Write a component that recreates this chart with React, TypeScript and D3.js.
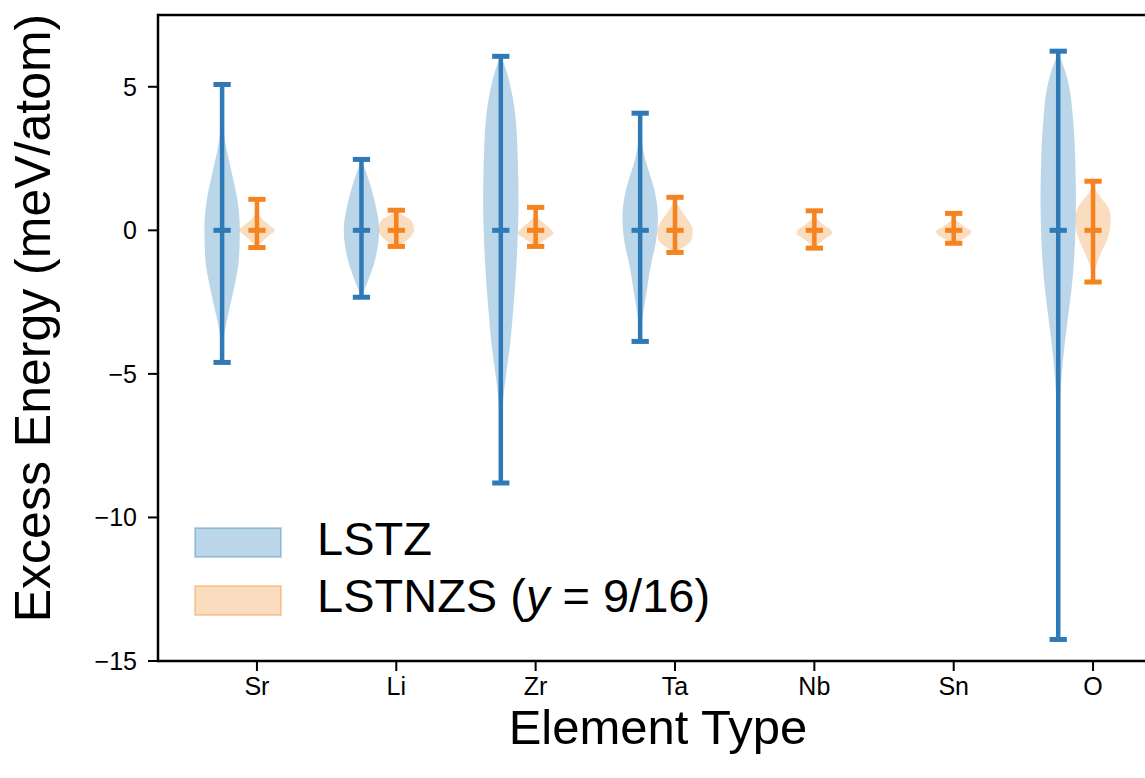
import React from "react";
import * as d3 from "d3";

// ---------- data ----------
const categories = ["Sr", "Li", "Zr", "Ta", "Nb", "Sn", "O"];
const yTicks = [5, 0, -5, -10, -15];

// [min, max] extents (meV/atom); null = no data
const lstzRange: ([number, number] | null)[] = [
  [-4.6, 5.08],
  [-2.33, 2.47],
  [-8.8, 6.06],
  [-3.87, 4.08],
  null,
  null,
  [-14.25, 6.24],
];
const lstnzsRange: ([number, number] | null)[] = [
  [-0.6, 1.08],
  [-0.56, 0.7],
  [-0.56, 0.8],
  [-0.77, 1.15],
  [-0.62, 0.68],
  [-0.45, 0.59],
  [-1.8, 1.71],
];
const lstzMean = [0, 0, 0, 0, null, null, 0];
const lstnzsMean = [0, 0, 0, 0, 0, 0, 0];

// density profiles: [value, relative width]
const lstzSr = [[5.08, 0], [4, 0.03], [3, 0.2], [2, 0.55], [1, 0.88], [0, 1], [-1, 0.95], [-2, 0.68], [-3, 0.32], [-3.7, 0.1], [-4.6, 0]];
const lstzLi = [[2.47, 0], [2, 0.28], [1, 0.75], [0, 1], [-1, 0.78], [-2, 0.22], [-2.33, 0]];
const lstzZr = [[6.06, 0], [5.8, 0.18], [5, 0.55], [4, 0.82], [3, 0.93], [2, 0.98], [1, 1], [0, 0.97], [-1, 0.9], [-2, 0.8], [-3, 0.67], [-4, 0.52], [-5, 0.3], [-6, 0.12], [-7, 0.05], [-8, 0.015], [-8.8, 0]];
const lstzTa = [[4.08, 0], [3.5, 0.04], [3, 0.12], [2.5, 0.28], [2, 0.52], [1.5, 0.77], [1, 0.93], [0.5, 1], [0, 0.97], [-0.5, 0.86], [-1, 0.68], [-1.5, 0.52], [-2, 0.4], [-2.5, 0.27], [-3, 0.14], [-3.5, 0.05], [-3.87, 0]];
const lstzO = [[6.24, 0], [6, 0.12], [5.5, 0.42], [5, 0.62], [4, 0.82], [3, 0.93], [2, 0.98], [1, 1], [0, 0.97], [-1, 0.9], [-2, 0.76], [-3, 0.56], [-4, 0.36], [-5, 0.2], [-6, 0.1], [-7, 0.04], [-8, 0.015], [-10, 0.005], [-14.25, 0]];

const lstnzsSr = [[1.08, 0], [0.7, 0.05], [0.45, 0.22], [0.2, 0.66], [0, 1], [-0.2, 0.66], [-0.45, 0.22], [-0.6, 0]];
const lstnzsLi = [[0.7, 0], [0.55, 0.3], [0.4, 0.75], [0.2, 0.95], [0, 1], [-0.2, 0.85], [-0.4, 0.5], [-0.56, 0.1]];
const lstnzsZr = [[0.8, 0], [0.5, 0.08], [0.3, 0.35], [0.1, 0.75], [-0.1, 1], [-0.3, 0.6], [-0.45, 0.25], [-0.56, 0]];
const lstnzsTa = [[1.15, 0], [0.9, 0.15], [0.6, 0.45], [0.3, 0.8], [0, 1], [-0.3, 0.95], [-0.5, 0.7], [-0.65, 0.3], [-0.77, 0]];
const lstnzsNb = [[0.68, 0], [0.4, 0.15], [0.2, 0.5], [0, 0.95], [-0.1, 1], [-0.3, 0.6], [-0.5, 0.2], [-0.62, 0]];
const lstnzsSn = [[0.59, 0], [0.35, 0.15], [0.15, 0.55], [-0.05, 1], [-0.2, 0.8], [-0.35, 0.35], [-0.45, 0]];
const lstnzsO = [[1.71, 0], [1.4, 0.15], [1.1, 0.5], [0.8, 0.85], [0.4, 1], [0, 0.95], [-0.4, 0.75], [-0.8, 0.45], [-1.2, 0.2], [-1.5, 0.07], [-1.8, 0]];

const lstzProfiles = [lstzSr, lstzLi, lstzZr, lstzTa, null, null, lstzO];
const lstnzsProfiles = [lstnzsSr, lstnzsLi, lstnzsZr, lstnzsTa, lstnzsNb, lstnzsSn, lstnzsO];

// ---------- layout ----------
const W = 1145;
const H = 778;
const left = 158;
const top = 15;
const bottom = 661;
const FONT = "'Liberation Sans', Arial, Helvetica, sans-serif";

const x = d3.scaleLinear().domain([-0.71, 6.71]).range([left, 1192]);
const y = d3.scaleLinear().domain([-15, 7.5]).range([bottom, top]);

const HALF = 0.127; // violin half-width (units)
const CAP = 0.062; // cap half-width (units)

const series = [
  {
    name: "LSTZ",
    offset: -0.25,
    profiles: lstzProfiles,
    ranges: lstzRange,
    means: lstzMean,
    body: "#1f77b4",
    line: "#2f79b6",
  },
  {
    name: "LSTNZS",
    offset: 0,
    profiles: lstnzsProfiles,
    ranges: lstnzsRange,
    means: lstnzsMean,
    body: "#f08a2a",
    line: "#f5831f",
  },
];

export default function App() {
  const dx = x(HALF) - x(0);
  const capW = x(CAP) - x(0);
  return (
    <svg
      width={W}
      height={H}
      style={{ position: "absolute", left: 0, top: 0, background: "#fff" }}
      fontFamily={FONT}
    >
      <rect x={0} y={0} width={W} height={H} fill="#fff" />
      {/* violin bodies */}
      {series.map((s) =>
        s.profiles.map((p, i) => {
          if (!p) return null;
          const cx = x(i + s.offset);
          const area = d3
            .area<number[]>()
            .y((d) => y(d[0]))
            .x0((d) => cx - d[1] * dx)
            .x1((d) => cx + d[1] * dx)
            .curve(d3.curveMonotoneY);
          const sorted = [...p].sort((a, b) => a[0] - b[0]);
          return (
            <path
              key={s.name + i}
              d={area(sorted) || ""}
              fill={s.body}
              fillOpacity={0.3}
              stroke="none"
            />
          );
        })
      )}
      {/* lines */}
      {series.map((s) =>
        s.ranges.map((r, i) => {
          if (!r) return null;
          const cx = x(i + s.offset);
          const m = s.means[i];
          return (
            <g key={"l" + s.name + i} stroke={s.line} strokeLinecap="butt">
              <line x1={cx} x2={cx} y1={y(r[0])} y2={y(r[1])} strokeWidth={4.5} />
              <line x1={cx - capW} x2={cx + capW} y1={y(r[0])} y2={y(r[0])} strokeWidth={5} />
              <line x1={cx - capW} x2={cx + capW} y1={y(r[1])} y2={y(r[1])} strokeWidth={5} />
              {m !== null && (
                <line x1={cx - capW} x2={cx + capW} y1={y(m)} y2={y(m)} strokeWidth={5} />
              )}
            </g>
          );
        })
      )}
      {/* spines */}
      <line x1={left} x2={W} y1={top} y2={top} stroke="#000" strokeWidth={2.5} />
      <line x1={left} x2={W} y1={bottom} y2={bottom} stroke="#000" strokeWidth={2.5} />
      <line x1={left} x2={left} y1={top - 1.25} y2={bottom + 1.25} stroke="#000" strokeWidth={2.5} />
      {/* y ticks */}
      {yTicks.map((t) => (
        <g key={"yt" + t}>
          <line x1={left - 10} x2={left} y1={y(t)} y2={y(t)} stroke="#000" strokeWidth={2} />
          <text
            x={left - 21}
            y={y(t)}
            dy="0.36em"
            textAnchor="end"
            fontSize={25}
            fill="#000"
          >
            {t < 0 ? "\u2212" + Math.abs(t) : String(t)}
          </text>
        </g>
      ))}
      {/* x ticks */}
      {categories.map((c, i) => (
        <g key={"xt" + c}>
          <line x1={x(i)} x2={x(i)} y1={bottom} y2={bottom + 10} stroke="#000" strokeWidth={2} />
          <text x={x(i)} y={bottom + 34} textAnchor="middle" fontSize={25} fill="#000">
            {c}
          </text>
        </g>
      ))}
      {/* axis titles */}
      <text x={658} y={744} textAnchor="middle" fontSize={49} fill="#000">
        Element Type
      </text>
      <text
        transform={`translate(50, ${318}) rotate(-90)`}
        textAnchor="middle"
        fontSize={50}
        fill="#000"
      >
        Excess Energy (meV/atom)
      </text>
      {/* legend */}
      <rect x={195} y={528} width={86} height={29} fill="#1f77b4" fillOpacity={0.3} stroke="#1f77b4" strokeOpacity={0.3} strokeWidth={2} />
      <rect x={195} y={586} width={86} height={29} fill="#f08a2a" fillOpacity={0.3} stroke="#f08a2a" strokeOpacity={0.35} strokeWidth={2} />
      <text x={317} y={555} fontSize={47} fill="#000">
        LSTZ
      </text>
      <text x={317} y={612} fontSize={47} fill="#000">
        LSTNZS (<tspan fontStyle="italic">y</tspan> = 9/16)
      </text>
    </svg>
  );
}
